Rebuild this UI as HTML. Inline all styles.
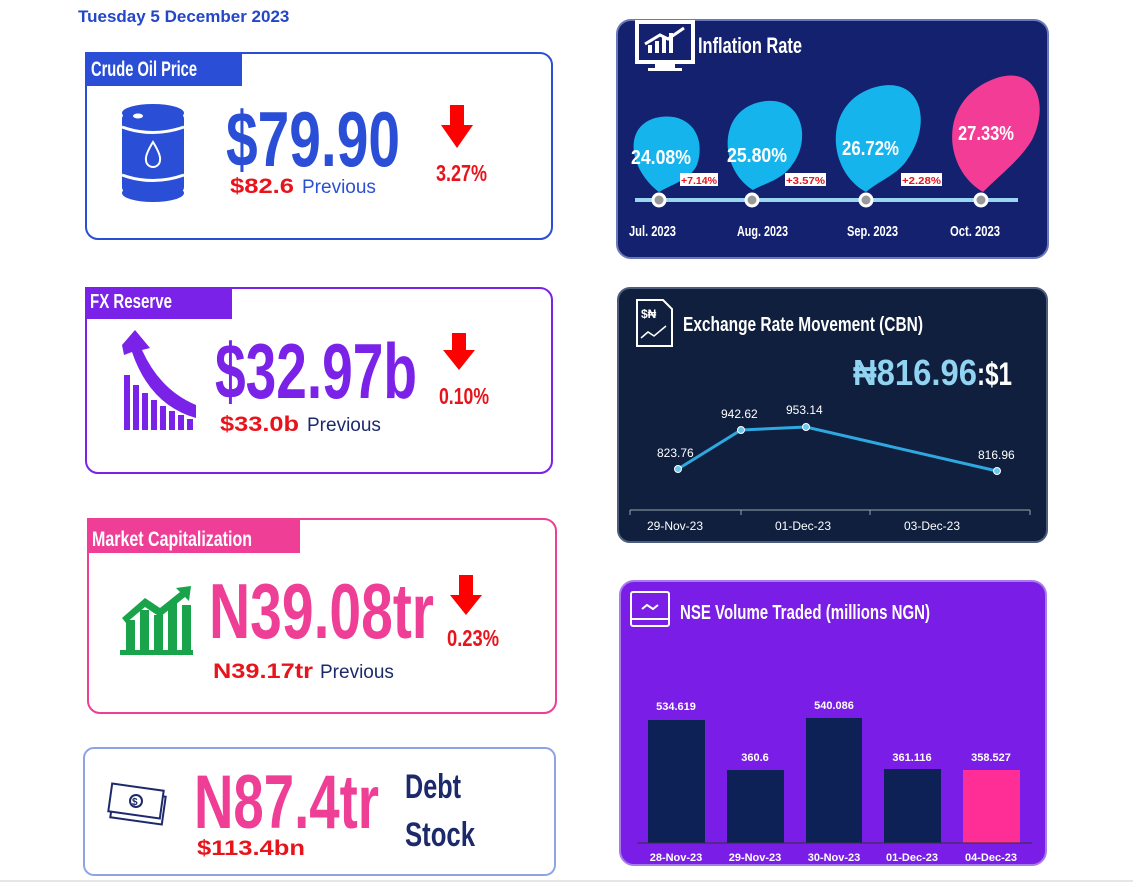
<!DOCTYPE html>
<html><head><meta charset="utf-8"><style>
html,body{margin:0;padding:0;background:#fff;width:1133px;height:883px;overflow:hidden}
svg{display:block}
text{font-family:"Liberation Sans",sans-serif}
.c{font-weight:bold}
</style></head><body>
<svg width="1133" height="883" viewBox="0 0 1133 883" xmlns="http://www.w3.org/2000/svg">
<text x="78" y="22" font-size="17" font-weight="bold" fill="#2446c8">Tuesday 5 December 2023</text>

<!-- Card 1 -->
<rect x="86" y="53" width="466" height="186" rx="12" fill="#fff" stroke="#2a4fd6" stroke-width="2"/>
<rect x="85" y="52" width="157" height="34" fill="#2a4fd6"/>
<text x="91" y="76" font-size="21" class="c" fill="#fff" textLength="106" lengthAdjust="spacingAndGlyphs">Crude Oil Price</text>
<g fill="#2a4fd6">
<ellipse cx="153" cy="113" rx="31" ry="9"/>
<rect x="122" y="113" width="62" height="80" rx="6"/>
<ellipse cx="153" cy="193" rx="31" ry="9"/>
</g>
<g stroke="#fff" stroke-width="3" fill="none">
<path d="M122 127 Q153 138 184 127"/><path d="M122 175 Q153 186 184 175"/>
<path d="M153 142 Q145 155 146 160 A7 7 0 0 0 160 160 Q161 155 153 142Z" stroke-width="2"/>
</g>
<ellipse cx="138" cy="116" rx="5" ry="2.5" fill="#fff"/>
<text x="226" y="166" font-size="78" class="c" fill="#2a4fd6" textLength="174" lengthAdjust="spacingAndGlyphs">$79.90</text>
<text x="230" y="193" font-size="21" class="c" fill="#e8141b" textLength="64" lengthAdjust="spacingAndGlyphs">$82.6</text>
<text x="302" y="193" font-size="19" fill="#2a4fd6">Previous</text>
<path d="M450 105 H464 V125 H473 L457 148 L441 125 H450Z" fill="#f00"/>
<text x="436" y="181" font-size="23" class="c" fill="#e8141b" textLength="51" lengthAdjust="spacingAndGlyphs">3.27%</text>

<!-- Card 2 -->
<rect x="86" y="288" width="466" height="185" rx="12" fill="#fff" stroke="#7b22e8" stroke-width="2"/>
<rect x="85" y="287" width="147" height="32" fill="#7b22e8"/>
<text x="90" y="308" font-size="20" class="c" fill="#fff" textLength="82" lengthAdjust="spacingAndGlyphs">FX Reserve</text>
<g fill="#7b22e8">
<path d="M122 345 L135 330 L150 348 L142 350 Q160 390 196 405 L196 418 Q150 405 132 352 L124 355Z"/>
<rect x="124" y="375" width="6" height="55"/><rect x="133" y="385" width="6" height="45"/><rect x="142" y="393" width="6" height="37"/><rect x="151" y="400" width="6" height="30"/><rect x="160" y="406" width="6" height="24"/><rect x="169" y="411" width="6" height="19"/><rect x="178" y="415" width="6" height="15"/><rect x="187" y="419" width="6" height="11"/>
</g>
<text x="215" y="398" font-size="78" class="c" fill="#7b22e8" textLength="202" lengthAdjust="spacingAndGlyphs">$32.97b</text>
<text x="220" y="431" font-size="21" class="c" fill="#e8141b" textLength="79" lengthAdjust="spacingAndGlyphs">$33.0b</text>
<text x="307" y="431" font-size="19" fill="#1c2a6b">Previous</text>
<path d="M452 333 H466 V350 H475 L459 370 L443 350 H452Z" fill="#f00"/>
<text x="439" y="404" font-size="23" class="c" fill="#e8141b" textLength="50" lengthAdjust="spacingAndGlyphs">0.10%</text>

<!-- Card 3 -->
<rect x="88" y="519" width="468" height="194" rx="12" fill="#fff" stroke="#ee3e96" stroke-width="2"/>
<rect x="87" y="518" width="213" height="35" fill="#ee3e96"/>
<text x="92" y="546" font-size="21" class="c" fill="#fff" textLength="160" lengthAdjust="spacingAndGlyphs">Market Capitalization</text>
<g fill="#19a34a">
<rect x="126" y="620" width="9" height="30"/><rect x="140" y="610" width="9" height="40"/><rect x="154" y="615" width="9" height="35"/><rect x="168" y="602" width="9" height="48"/><rect x="182" y="605" width="9" height="45"/>
<rect x="120" y="650" width="73" height="5"/>
<path d="M122 618 L145 598 L160 608 L180 592 L176 588 L191 586 L189 601 L185 597 L160 617 L145 607 L126 623Z"/>
</g>
<text x="209" y="638" font-size="78" class="c" fill="#ee3e96" textLength="225" lengthAdjust="spacingAndGlyphs">N39.08tr</text>
<text x="213" y="678" font-size="21" class="c" fill="#e8141b" textLength="100" lengthAdjust="spacingAndGlyphs">N39.17tr</text>
<text x="320" y="678" font-size="19" fill="#1c2a6b">Previous</text>
<path d="M459 575 H473 V595 H482 L466 615 L450 595 H459Z" fill="#f00"/>
<text x="447" y="646" font-size="23" class="c" fill="#e8141b" textLength="52" lengthAdjust="spacingAndGlyphs">0.23%</text>

<!-- Card 4 -->
<rect x="84" y="748" width="471" height="127" rx="10" fill="#fff" stroke="#8ea2e6" stroke-width="2"/>
<g fill="none" stroke="#1c2a6b" stroke-width="2">
<rect x="112" y="793" width="52" height="28" transform="rotate(8 138 807)"/>
<rect x="110" y="787" width="52" height="28" transform="rotate(8 136 801)" fill="#fff"/>
<circle cx="136" cy="801" r="6"/>
</g>
<text x="132" y="805" font-size="10" class="c" fill="#1c2a6b">$</text>
<text x="194" y="828" font-size="76" class="c" fill="#ee3e96" textLength="185" lengthAdjust="spacingAndGlyphs">N87.4tr</text>
<text x="405" y="798" font-size="34" class="c" fill="#1c2a6b" textLength="56" lengthAdjust="spacingAndGlyphs">Debt</text>
<text x="405" y="846" font-size="34" class="c" fill="#1c2a6b" textLength="70" lengthAdjust="spacingAndGlyphs">Stock</text>
<text x="197" y="855" font-size="21" class="c" fill="#e8141b" textLength="108" lengthAdjust="spacingAndGlyphs">$113.4bn</text>

<!-- Panel 1 Inflation -->
<rect x="617" y="20" width="431" height="238" rx="14" fill="#14216e" stroke="#6b78b8" stroke-width="2"/>
<rect x="637" y="22" width="56" height="40" fill="#14216e" stroke="#fff" stroke-width="4"/>
<rect x="655" y="62" width="20" height="6" fill="#fff"/><rect x="648" y="68" width="34" height="3" fill="#fff"/>
<g fill="#fff"><rect x="648" y="45" width="4" height="8"/><rect x="655" y="41" width="4" height="12"/><rect x="662" y="37" width="4" height="16"/><rect x="669" y="33" width="4" height="20"/></g>
<path d="M645 44 L660 35 L668 39 L684 28" stroke="#fff" stroke-width="3" fill="none"/>
<text x="698" y="53" font-size="22" class="c" fill="#fff" textLength="104" lengthAdjust="spacingAndGlyphs">Inflation Rate</text>
<line x1="635" y1="200" x2="1018" y2="200" stroke="#9ad6f2" stroke-width="4"/>
<path d="M659 192 C630 170 622 128 655 118 C688 110 707 135 697 165 C690 180 670 185 659 192Z" fill="#16b4ec"/>
<path d="M753 190 C720 170 716 112 760 102 C803 93 812 140 792 165 C782 180 765 183 753 190Z" fill="#16b4ec"/>
<path d="M866 192 C825 170 822 98 880 86 C923 78 932 125 907 160 C897 175 880 180 866 192Z" fill="#16b4ec"/>
<path d="M983 192 C945 170 938 108 985 83 C1032 58 1052 100 1032 140 C1020 160 1000 175 983 192Z" fill="#f23c95"/>
<text x="631" y="164" font-size="20" class="c" fill="#fff" textLength="60" lengthAdjust="spacingAndGlyphs">24.08%</text>
<text x="727" y="162" font-size="20" class="c" fill="#fff" textLength="60" lengthAdjust="spacingAndGlyphs">25.80%</text>
<text x="842" y="155" font-size="20" class="c" fill="#fff" textLength="57" lengthAdjust="spacingAndGlyphs">26.72%</text>
<text x="958" y="140" font-size="20" class="c" fill="#fff" textLength="56" lengthAdjust="spacingAndGlyphs">27.33%</text>
<g font-size="10" font-weight="bold" fill="#e8141b">
<rect x="680" y="173" width="38" height="13" fill="#fff"/><text x="681" y="184" textLength="36" lengthAdjust="spacingAndGlyphs">+7.14%</text>
<rect x="785" y="173" width="41" height="13" fill="#fff"/><text x="786" y="184" textLength="39" lengthAdjust="spacingAndGlyphs">+3.57%</text>
<rect x="901" y="173" width="41" height="13" fill="#fff"/><text x="902" y="184" textLength="39" lengthAdjust="spacingAndGlyphs">+2.28%</text>
</g>
<g fill="#999" stroke="#fff" stroke-width="3">
<circle cx="659" cy="200" r="6"/><circle cx="752" cy="200" r="6"/><circle cx="866" cy="200" r="6"/><circle cx="981" cy="200" r="6"/>
</g>
<g font-size="15" class="c" fill="#fff">
<text x="629" y="236" textLength="47" lengthAdjust="spacingAndGlyphs">Jul. 2023</text>
<text x="737" y="236" textLength="51" lengthAdjust="spacingAndGlyphs">Aug. 2023</text>
<text x="847" y="236" textLength="51" lengthAdjust="spacingAndGlyphs">Sep. 2023</text>
<text x="950" y="236" textLength="50" lengthAdjust="spacingAndGlyphs">Oct. 2023</text>
</g>

<!-- Panel 2 Exchange -->
<rect x="618" y="288" width="429" height="254" rx="12" fill="#0f1f3d" stroke="#4b5c7c" stroke-width="2"/>
<path d="M637 300 H663 L672 309 V346 H637Z" fill="none" stroke="#fff" stroke-width="2"/>
<text x="641" y="318" font-size="12" class="c" fill="#fff">$₦</text>
<path d="M641 338 L648 332 L654 336 L666 326" stroke="#fff" stroke-width="1.5" fill="none"/>
<text x="683" y="331" font-size="20" class="c" fill="#fff" textLength="240" lengthAdjust="spacingAndGlyphs">Exchange Rate Movement (CBN)</text>
<text x="853" y="385" font-size="36" class="c" fill="#90d4f2" textLength="124" lengthAdjust="spacingAndGlyphs">₦816.96</text>
<text x="977" y="385" font-size="32" class="c" fill="#fff" textLength="35" lengthAdjust="spacingAndGlyphs">:$1</text>
<polyline points="678,469 741,430 806,427 997,471" fill="none" stroke="#2fa8e0" stroke-width="3"/>
<g fill="#6cc8ef" stroke="#fff" stroke-width="1"><circle cx="678" cy="469" r="3.5"/><circle cx="741" cy="430" r="3.5"/><circle cx="806" cy="427" r="3.5"/><circle cx="997" cy="471" r="3.5"/></g>
<g font-size="12" fill="#fff">
<text x="657" y="457">823.76</text><text x="721" y="418">942.62</text><text x="786" y="414">953.14</text><text x="978" y="459">816.96</text>
</g>
<line x1="630" y1="510" x2="1030" y2="510" stroke="#9aa" stroke-width="1"/>
<g stroke="#9aa"><line x1="630" y1="510" x2="630" y2="515"/><line x1="741" y1="510" x2="741" y2="515"/><line x1="870" y1="510" x2="870" y2="515"/><line x1="1030" y1="510" x2="1030" y2="515"/></g>
<g font-size="12" fill="#fff">
<text x="647" y="530">29-Nov-23</text><text x="775" y="530">01-Dec-23</text><text x="904" y="530">03-Dec-23</text>
</g>

<!-- Panel 3 NSE -->
<rect x="620" y="581" width="426" height="284" rx="14" fill="#7a1de6" stroke="#a77bea" stroke-width="2"/>
<rect x="631" y="592" width="38" height="34" rx="2" fill="none" stroke="#fff" stroke-width="2"/>
<line x1="631" y1="619" x2="669" y2="619" stroke="#fff" stroke-width="2"/>
<path d="M642 609 L647 605 L653 609 L658 605" stroke="#fff" stroke-width="2" fill="none"/>
<text x="680" y="619" font-size="20" class="c" fill="#fff" textLength="250" lengthAdjust="spacingAndGlyphs">NSE Volume Traded (millions NGN)</text>
<g fill="#0d2157">
<rect x="648" y="720" width="57" height="123"/><rect x="727" y="770" width="57" height="73"/><rect x="806" y="718" width="56" height="125"/><rect x="884" y="769" width="57" height="74"/>
</g>
<rect x="963" y="770" width="57" height="73" fill="#ff2e97"/>
<line x1="637" y1="843" x2="1032" y2="843" stroke="#333" stroke-width="1"/>
<g font-size="11" font-weight="bold" fill="#fff" text-anchor="middle">
<text x="676" y="710">534.619</text><text x="755" y="761">360.6</text><text x="834" y="709">540.086</text><text x="912" y="761">361.116</text><text x="991" y="761">358.527</text>
<text x="676" y="861">28-Nov-23</text><text x="755" y="861">29-Nov-23</text><text x="834" y="861">30-Nov-23</text><text x="912" y="861">01-Dec-23</text><text x="991" y="861">04-Dec-23</text>
</g>
<line x1="0" y1="881" x2="1133" y2="881" stroke="#ccc" stroke-width="1"/>
</svg>
</body></html>
